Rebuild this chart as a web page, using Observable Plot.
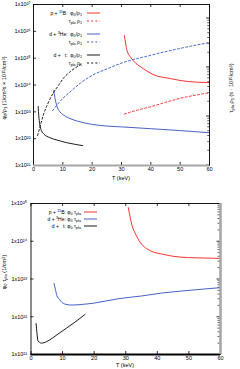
<!DOCTYPE html>
<html><head><meta charset="utf-8">
<script src="https://cdn.jsdelivr.net/npm/d3@7"></script>
<script src="https://cdn.jsdelivr.net/npm/@observablehq/plot@0.6"></script>
<style>
body{margin:0;background:#fff;}
#c{position:relative;width:240px;height:369px;font-family:"Liberation Sans",Arial,sans-serif;overflow:hidden;background:#fff}
#c svg.plot{position:absolute;left:0}
.lab{position:absolute;font-size:5.5px;white-space:nowrap;color:#000;line-height:1}
.rot{transform:translate(-50%,-50%) rotate(-90deg)}
.ctr{transform:translate(-50%,-50%)}
.leg{position:absolute;font-size:5px;white-space:nowrap;line-height:1;text-align:right;transform:translateY(-50%)}
sub{font-size:0.75em;vertical-align:-0.3em;line-height:0}
sup{font-size:0.75em;vertical-align:0.4em;line-height:0}
.sw{position:absolute}
</style>
</head><body>
<div id="c"></div>
<script>
// ---------- data ----------
const xTicks = [0, 10, 20, 30, 40, 50, 60];
const leftTicksTop = [1e21, 1e22, 1e23, 1e24, 1e25, 1e26, 1e27];
const leftTicksBot = [1e21, 1e22, 1e23, 1e24, 1e25];
const rightTickVals = [0.01, 0.1, 1, 10];
const rightTickLabels = ["0.01", "0.1", "1", "10"];

// top panel: phi0/rho1 (left axis)
const T_pB_phi = [31.0, 31.9, 32.9, 34.0, 37.4, 40.8, 46.6, 52.5, 60];
const pB_phi   = [6.9e25, 1.9e25, 1.17e25, 8.1e24, 4.1e24, 2.45e24, 1.74e24, 1.35e24, 1.23e24];
const T_dHe_phi = [6.9, 7.5, 8.2, 9, 10, 12, 15, 20, 25, 30, 40, 50, 60];
const dHe_phi   = [6.2e23, 2.6e23, 1.4e23, 1.0e23, 7.9e22, 5.9e22, 4.5e22, 3.4e22, 2.95e22, 2.75e22, 2.35e22, 2.0e22, 1.66e22];
const T_dt_phi = [1.6, 1.8, 2.1, 2.7, 3.5, 5.5, 8, 11.3, 14, 16.8];
const dt_phi   = [1.58e23, 7.1e22, 3.6e22, 2.0e22, 1.5e22, 1.1e22, 8.9e21, 7.1e21, 6.2e21, 5.5e21];

// top panel: tau_pla rho1 (right axis, s·1e15/cm3)
const T_pB_tau = [31, 35, 40, 45, 50, 55, 60];
const pB_tau   = [0.11, 0.13, 0.155, 0.19, 0.23, 0.265, 0.30];
const T_dHe_tau = [6.5, 10, 13, 16, 20, 25, 30, 40, 50, 60];
const dHe_tau   = [0.129, 0.229, 0.331, 0.468, 0.676, 0.912, 1.20, 1.74, 2.40, 3.16];
const T_dt_tau = [1.4, 2.4, 3.4, 5.1, 6.8, 8.5, 10.2, 12.6, 16.0];
const dt_tau   = [0.040, 0.066, 0.107, 0.19, 0.30, 0.42, 0.59, 0.81, 1.12];

// bottom panel: phi0 tau_pla
const T_pB_lw = [30.8, 31.4, 32, 33, 34.6, 37.8, 41.9, 45, 49.5, 55, 60];
const pB_lw   = [7.8e24, 4.3e24, 2.6e24, 1.62e24, 9.3e23, 5.6e23, 4.5e23, 4.0e23, 3.7e23, 3.6e23, 3.5e23];
const T_dHe_lw = [7.3, 7.8, 8.2, 9, 9.8, 11.4, 13, 15.5, 20, 27.6, 35, 41, 50, 60];
const dHe_lw   = [7.6e22, 5.0e22, 3.6e22, 2.9e22, 2.4e22, 2.1e22, 2.04e22, 2.1e22, 2.3e22, 3.0e22, 3.55e22, 4.2e22, 5.0e22, 5.9e22];
const T_dt_lw = [1.6, 1.9, 2.2, 2.7, 3.3, 5, 7, 9.2, 13.3, 17.1];
const dt_lw   = [6.6e21, 3.6e21, 2.3e21, 2.1e21, 2.0e21, 2.2e21, 2.8e21, 3.8e21, 6.6e21, 1.15e22];

const RED = "#ff1a1a", BLUE = "#2f4fc4", BLACK = "#000";

// ---------- helpers ----------
const SUP = "⁰¹²³⁴⁵⁶⁷⁸⁹";
const sup = n => String(n).split("").map(c => SUP[+c]).join("");
const fmtPow = d => "1x10" + sup(Math.round(Math.log10(d)));
const R_MIN = -2.01, R_MAX = 1.2755;   // right axis log-range of the top panel
const toLeft = v => 10 ** (21 + (Math.log10(v) - R_MIN) * 6 / (R_MAX - R_MIN));
const rightFmt = d => {
  const i = rightTickVals.findIndex(v => Math.abs(toLeft(v) / d - 1) < 1e-6);
  return i >= 0 ? rightTickLabels[i] : "";
};
const rows = (T, V, f = v => v) => T.map((t, i) => ({T: t, v: f(V[i])}));
const minorTicks = (lo, hi) => {
  const out = [];
  for (let e = lo; e < hi; e++) for (let k = 2; k <= 9; k++) out.push(k * 10 ** e);
  return out;
};
const font = {fontFamily: '"Liberation Sans",Arial,sans-serif', fontSize: "5.5px", background: "transparent", overflow: "visible"};
const line = (data, color, dashed) => Plot.line(data, {x: "T", y: "v", stroke: color, strokeWidth: 0.9, curve: "monotone-x", strokeDasharray: dashed ? "2,2.2" : null});

const c = document.getElementById("c");

// ---------- top panel ----------
{
  const W = 240, H = 190, mt = 4, mr = 31, mb = 25, ml = 33;
  const iw = W - ml - mr, ih = H - mt - mb;
  const p = Plot.plot({
    width: W, height: H, marginTop: mt, marginRight: mr, marginBottom: mb, marginLeft: ml,
    style: font,
    x: {domain: [0, 60]},
    y: {type: "log", domain: [1e21, 1e27]},
    marks: [
      Plot.axisX(xTicks, {tickSize: 0, tickPadding: 2, label: null, tickFormat: d => String(d)}),
      Plot.axisY(leftTicksTop, {anchor: "left", tickSize: 0, tickPadding: 3, label: null, tickFormat: fmtPow}),
      Plot.axisY(rightTickVals.map(toLeft), {anchor: "right", tickSize: 0, tickPadding: 5, label: null, tickFormat: rightFmt}),
      Plot.tickX(xTicks, {x: d => d, insetTop: ih - 3, stroke: "#000", strokeWidth: 0.8}),
      Plot.tickX(xTicks, {x: d => d, insetBottom: ih - 3, stroke: "#000", strokeWidth: 0.8}),
      Plot.tickY(leftTicksTop, {y: d => d, insetRight: iw - 3, stroke: "#000", strokeWidth: 0.8}),
      Plot.tickY(rightTickVals.map(toLeft), {y: d => d, insetLeft: iw - 3, stroke: "#000", strokeWidth: 0.8}),
      Plot.tickY(minorTicks(-2, 1).map(toLeft), {y: d => d, insetLeft: iw - 1.8, stroke: "#000", strokeWidth: 0.6}),
      line(rows(T_pB_phi, pB_phi), RED, false),
      line(rows(T_pB_tau, pB_tau, toLeft), RED, true),
      line(rows(T_dHe_phi, dHe_phi), BLUE, false),
      line(rows(T_dHe_tau, dHe_tau, toLeft), BLUE, true),
      line(rows(T_dt_phi, dt_phi), BLACK, false),
      line(rows(T_dt_tau, dt_tau, toLeft), BLACK, true),
      Plot.frame({stroke: "#000", strokeWidth: 0.9}),
      Plot.ruleY([1e21], {stroke: "#a8a8a8", strokeWidth: 2.2})
    ]
  });
  p.classList.add("plot");
  p.style.top = "0px";
  c.appendChild(p);
}

// ---------- bottom panel ----------
{
  const W = 240, H = 179, mt = 13, mr = 20, mb = 15, ml = 30.5;
  const iw = W - ml - mr, ih = H - mt - mb;
  const p = Plot.plot({
    width: W, height: H, marginTop: mt, marginRight: mr, marginBottom: mb, marginLeft: ml,
    style: font,
    x: {domain: [0, 60]},
    y: {type: "log", domain: [1e21, 1e25]},
    marks: [
      Plot.axisX(xTicks, {tickSize: 0, tickPadding: 1.5, label: null, tickFormat: d => String(d)}),
      Plot.axisY(leftTicksBot, {anchor: "left", tickSize: 0, tickPadding: 4, label: null, tickFormat: fmtPow}),
      Plot.tickX(xTicks, {x: d => d, insetTop: ih - 3, stroke: "#000", strokeWidth: 0.8}),
      Plot.tickX(xTicks, {x: d => d, insetBottom: ih - 3, stroke: "#000", strokeWidth: 0.8}),
      Plot.tickY(leftTicksBot, {y: d => d, insetRight: iw - 3, stroke: "#000", strokeWidth: 0.8}),
      Plot.tickY(leftTicksBot, {y: d => d, insetLeft: iw - 3.5, stroke: "#000", strokeWidth: 0.8}),
      Plot.tickY(minorTicks(21, 25), {y: d => d, insetLeft: iw - 2.5, stroke: "#000", strokeWidth: 0.6}),
      line(rows(T_pB_lw, pB_lw), RED, false),
      line(rows(T_dHe_lw, dHe_lw), BLUE, false),
      line(rows(T_dt_lw, dt_lw), BLACK, false),
      Plot.frame({stroke: "#000", strokeWidth: 0.9}),
      Plot.ruleY([1e21], {stroke: "#000", strokeWidth: 1.8}),
      Plot.ruleX([60], {stroke: "#a8a8a8", strokeWidth: 2.6})
    ]
  });
  p.classList.add("plot");
  p.style.top = "190px";
  c.appendChild(p);
}

// ---------- axis titles ----------
const titles = [
  {x: 5,   y: 88,  cls: "rot", html: "φ<sub>0</sub>/ρ<sub>1</sub> (1/cm<sup>3</sup>s × 10<sup>15</sup>/cm<sup>3</sup>)"},
  {x: 232, y: 88,  cls: "rot", html: "τ<sub>pla</sub> ρ<sub>1</sub> (s · 10<sup>15</sup>/cm<sup>3</sup>)"},
  {x: 121, y: 179, cls: "ctr", html: "T (keV)"},
  {x: 5,   y: 272, cls: "rot", html: "φ<sub>0</sub> τ<sub>pla</sub> (1/cm<sup>3</sup>)"},
  {x: 125, y: 366, cls: "ctr", html: "T (keV)"}
];
for (const t of titles) {
  const d = document.createElement("div");
  d.className = "lab " + t.cls;
  d.style.left = t.x + "px"; d.style.top = t.y + "px";
  d.innerHTML = t.html;
  c.appendChild(d);
}

// ---------- legends ----------
const legTop = [
  {y: 13, html: "p + <sup>11</sup>B:&nbsp; φ<sub>0</sub>/ρ<sub>1</sub>", color: RED, dash: false},
  {y: 21, html: "τ<sub>pla</sub> ρ<sub>1</sub>", color: RED, dash: true},
  {y: 34, html: "d + <sup>3</sup>He:&nbsp; φ<sub>0</sub>/ρ<sub>1</sub>", color: BLUE, dash: false},
  {y: 42, html: "τ<sub>pla</sub> ρ<sub>1</sub>", color: BLUE, dash: true},
  {y: 55, html: "d + &nbsp;&nbsp;t:&nbsp; φ<sub>0</sub>/ρ<sub>1</sub>", color: BLACK, dash: false},
  {y: 63, html: "τ<sub>pla</sub> ρ<sub>1</sub>", color: BLACK, dash: true}
];
const legBot = [
  {y: 212, html: "p + <sup>11</sup>B: φ<sub>0</sub> τ<sub>pla</sub>", color: RED, dash: false},
  {y: 219, html: "d + <sup>3</sup>He: φ<sub>0</sub> τ<sub>pla</sub>", color: BLUE, dash: false},
  {y: 226, html: "d + &nbsp;&nbsp;t: φ<sub>0</sub> τ<sub>pla</sub>", color: BLACK, dash: false}
];
function addLegend(items, textRight, swX, swW) {
  for (const it of items) {
    const d = document.createElement("div");
    d.className = "leg";
    d.style.right = (240 - textRight) + "px";
    d.style.top = it.y + "px";
    d.innerHTML = it.html;
    c.appendChild(d);
    const ns = "http://www.w3.org/2000/svg";
    const s = document.createElementNS(ns, "svg");
    s.setAttribute("class", "sw");
    s.setAttribute("width", swW); s.setAttribute("height", 4);
    s.style.left = swX + "px"; s.style.top = (it.y - 2) + "px";
    const l = document.createElementNS(ns, "line");
    l.setAttribute("x1", 0); l.setAttribute("x2", swW);
    l.setAttribute("y1", 2); l.setAttribute("y2", 2);
    l.setAttribute("stroke", it.color); l.setAttribute("stroke-width", 0.9);
    if (it.dash) l.setAttribute("stroke-dasharray", "2,2.2");
    s.appendChild(l);
    c.appendChild(s);
  }
}
addLegend(legTop, 82, 87, 13);
addLegend(legBot, 81, 84, 13);
</script>
</body></html>
